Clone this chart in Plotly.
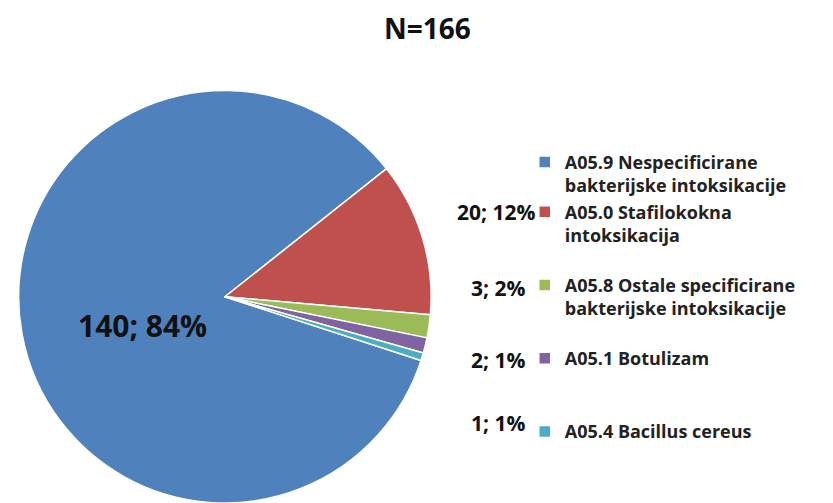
import plotly.graph_objs as go

# Datos del grafico
kategorije = [
    "A05.9 Nespecificirane<br>bakterijske intoksikacije",
    "A05.0 Stafilokokna<br>intoksikacija<br>&nbsp;",
    "A05.8 Ostale specificirane<br>bakterijske intoksikacije<br>&nbsp;",
    "A05.1 Botulizam<br>&nbsp;<br>&nbsp;",
    "A05.4 Bacillus cereus",
]
broj_slucajeva = [140, 20, 3, 2, 1]
boje = ["#4F81BD", "#C0504D", "#9BBB59", "#8064A2", "#4BACC6"]
ukupno = sum(broj_slucajeva)
naslov = "N=%d" % ukupno

# tekst oznaka: "broj; postotak"
oznake = ["%d; %d%%" % (v, max(1, round(v * 100 / ukupno))) for v in broj_slucajeva]

fig = go.Figure(go.Pie(
    labels=kategorije,
    values=broj_slucajeva,
    sort=False,
    direction="clockwise",
    rotation=108,
    marker=dict(colors=boje, line=dict(color="white", width=1.5)),
    textinfo="none",
    domain=dict(x=[0.02, 0.52], y=[0, 0.82]),
    hoverinfo="label+value+percent",
))

# oznake: velika unutar kruga, male pored legende
pozicije_x = [142, 537, 527, 527, 527]
pozicije_y = [325, 212, 288, 360, 423]
sidro_x = ["center", "right", "right", "right", "right"]
velicine = [30, 21, 21, 21, 21]
for tekst, px_x, px_y, sidro, vel in zip(oznake, pozicije_x, pozicije_y, sidro_x, velicine):
    fig.add_annotation(
        x=px_x / 833, y=1 - px_y / 503, xref="paper", yref="paper",
        xanchor=sidro, yanchor="middle", showarrow=False,
        text=tekst,
        font=dict(family="Open Sans", size=vel, color="#111", weight="bold"),
    )

fig.update_layout(
    width=833, height=503,
    margin=dict(l=0, r=0, t=0, b=0),
    paper_bgcolor="white",
    title=dict(
        text=naslov, x=0.513, xanchor="center", y=1 - 29 / 503, yanchor="middle",
        font=dict(family="Open Sans", size=28, color="#111", weight="bold"),
    ),
    legend=dict(
        x=0.63, xanchor="left", y=0.714, yanchor="top",
        valign="top",
        font=dict(family="Open Sans", size=18, color="#222", weight="bold"),
        bgcolor="rgba(0,0,0,0)",
    ),
    showlegend=True,
)

# bez margine stranice da slika krene od (0, 0)
fig.write_html("out.html", config={"displayModeBar": False},
               post_script="document.body.style.margin='0';")
